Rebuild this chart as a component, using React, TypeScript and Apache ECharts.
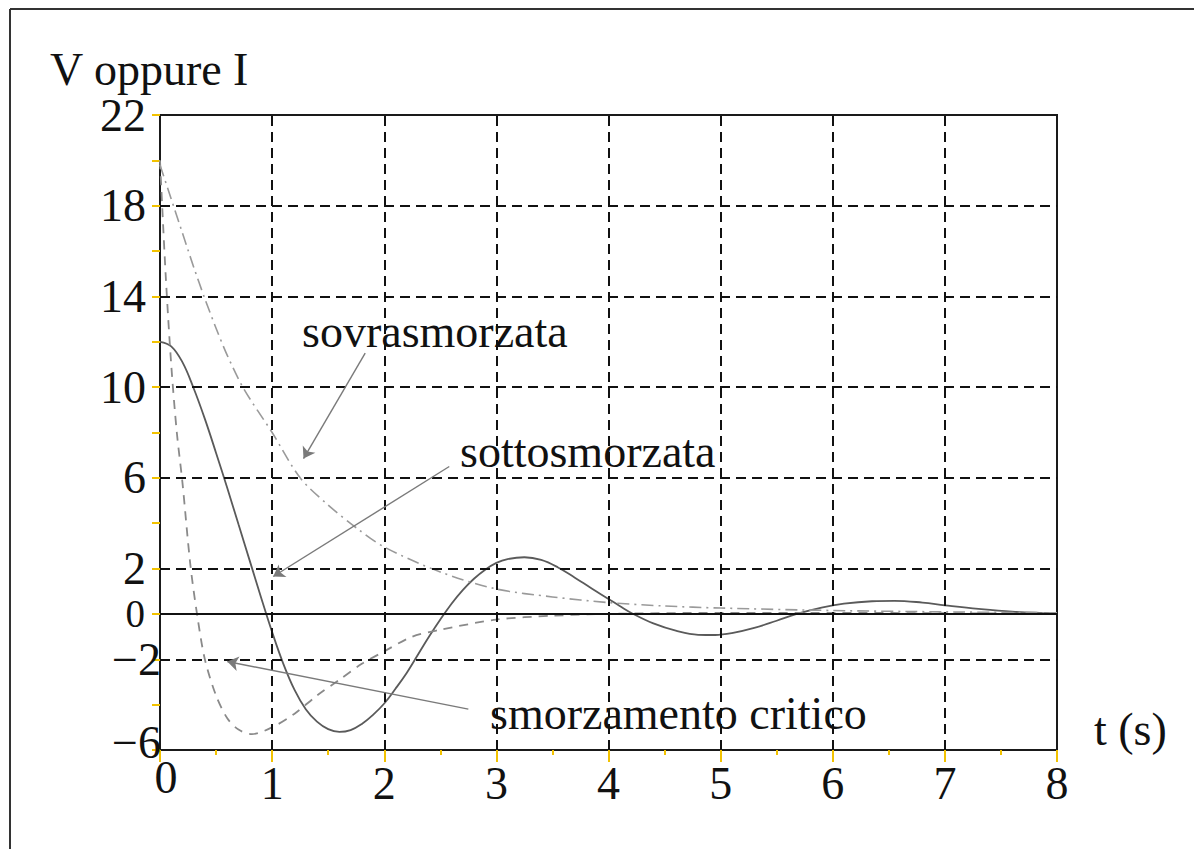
import React, { useEffect, useRef } from "react";
import * as echarts from "echarts";

const FONT = '"Liberation Serif", "Times New Roman", "DejaVu Serif", serif';
const YELLOW = "#f2c200";

// sottosmorzata (underdamped) – solid
const T_UNDER = [0, 0.1, 0.2, 0.3, 0.4, 0.5, 0.6, 0.7, 0.8, 0.9, 1.0, 1.1, 1.2, 1.3, 1.4, 1.5, 1.6, 1.7, 1.8, 1.9, 2.0, 2.1, 2.2, 2.3, 2.4, 2.5, 2.6, 2.7, 2.8, 2.9, 3.0, 3.1, 3.25, 3.4, 3.55, 3.7, 3.85, 4.0, 4.1, 4.22, 4.4, 4.6, 4.8, 4.95, 5.1, 5.3, 5.5, 5.68, 5.9, 6.1, 6.35, 6.55, 6.8, 7.0, 7.3, 7.6, 8.0];
const V_UNDER = [12.0, 11.8, 11.1, 9.95, 8.6, 7.1, 5.55, 3.95, 2.35, 0.75, -0.8, -2.2, -3.35, -4.2, -4.75, -5.08, -5.2, -5.12, -4.85, -4.45, -3.95, -3.3, -2.6, -1.8, -1.0, -0.25, 0.45, 1.05, 1.55, 1.95, 2.25, 2.42, 2.5, 2.38, 2.05, 1.6, 1.12, 0.66, 0.35, 0, -0.42, -0.74, -0.92, -0.93, -0.85, -0.62, -0.3, 0, 0.28, 0.45, 0.56, 0.58, 0.5, 0.38, 0.22, 0.1, 0.02];

// smorzamento critico – dashed
const T_CRIT = [0, 0.05, 0.1, 0.15, 0.2, 0.27, 0.33, 0.4, 0.5, 0.6, 0.7, 0.82, 1.0, 1.2, 1.4, 1.6, 1.8, 2.0, 2.25, 2.5, 3.0, 3.5, 4.0, 5.0, 6.0, 7.0, 8.0];
const V_CRIT = [20, 15, 11, 8, 5.8, 2.2, 0, -2, -3.6, -4.6, -5.1, -5.3, -5.0, -4.4, -3.6, -2.9, -2.2, -1.65, -1.0, -0.7, -0.25, -0.08, 0, 0.05, 0.05, 0.03, 0.02];

// sovrasmorzata (overdamped) – dash-dot
const T_OVER = [0, 0.1, 0.2, 0.3, 0.4, 0.5, 0.6, 0.75, 1.0, 1.25, 1.5, 1.75, 2.0, 2.5, 3.0, 3.5, 4.0, 4.5, 5.0, 6.0, 7.0, 8.0];
const V_OVER = [19.8, 18.3, 16.8, 15.3, 13.9, 12.6, 11.4, 9.9, 8.0, 6.0, 4.8, 3.8, 2.95, 1.85, 1.1, 0.75, 0.5, 0.35, 0.26, 0.15, 0.09, 0.05];

const Y_LABELS_POS = [22, 18, 14, 10, 6, 2, 0];
const Y_LABELS_NEG = [-2, -6];
const GRID_Y = [-2, 2, 6, 10, 14, 18];
const GRID_X = [1, 2, 3, 4, 5, 6, 7];

// annotation arrows: [start t, start v, end t, end v]
const ARROWS = [
  [1.83, 11.5, 1.28, 6.85],
  [2.58, 6.5, 1.01, 1.65],
  [2.75, -4.2, 0.6, -2.1],
];

const zip = (t: number[], v: number[]) => t.map((x, i) => [x, v[i]]);

export default function App() {
  const ref = useRef<HTMLDivElement>(null);
  useEffect(() => {
    if (!ref.current) return;
    const chart = echarts.init(ref.current, undefined, { renderer: "svg" });
    const txt = (text: string, x: number, y: number) => ({
      type: "text",
      x,
      y,
      silent: true,
      style: {
        text,
        fill: "#111",
        fontSize: 46,
        fontFamily: FONT,
        textAlign: "left",
        textVerticalAlign: "middle",
      },
    });
    const base = { fontSize: 46, fontFamily: FONT, color: "#111", lineHeight: 34 };
    chart.setOption({
      animation: false,
      backgroundColor: "#fff",
      grid: {
        left: 160,
        top: 115,
        right: 137,
        bottom: 99,
        show: true,
        borderColor: "#1a1a1a",
        borderWidth: 2,
        containLabel: false,
      },
      xAxis: {
        type: "value",
        min: 0,
        max: 8,
        interval: 1,
        axisLine: { show: true, onZero: false, lineStyle: { color: "#1a1a1a", width: 2 } },
        axisTick: { show: true, length: 12, lineStyle: { color: YELLOW, width: 2 } },
        minorTick: { show: true, splitNumber: 2, length: 5, lineStyle: { color: YELLOW, width: 2 } },
        axisLabel: {
          ...base,
          margin: 10,
          formatter: (v: number) => (v === 0 ? "{z|0}" : "{n|" + v + "}"),
          rich: {
            z: { ...base, padding: [0, 0, 0, 12] },
            n: { ...base, padding: [13, 0, 0, 0] },
          },
        },
        splitLine: { show: false },
      },
      yAxis: [
        {
          type: "value",
          min: -6,
          max: 22,
          interval: 2,
          position: "left",
          axisLine: { show: true, onZero: false, lineStyle: { color: "#1a1a1a", width: 2 } },
          axisTick: { show: true, length: 8, lineStyle: { color: YELLOW, width: 2 } },
          axisLabel: {
            ...base,
            margin: 14,
            formatter: (v: number) =>
              Y_LABELS_POS.includes(v) ? (v === 0 ? "{s|0}" : String(v)) : "",
            rich: {
              s: { ...base, fontSize: 39, lineHeight: 30, padding: [0, 1, 0, 0] },
            },
          },
          splitLine: { show: false },
        },
        {
          type: "value",
          min: -6,
          max: 22,
          interval: 2,
          position: "left",
          offset: 0,
          axisLine: { show: false },
          axisTick: { show: false },
          axisLabel: {
            ...base,
            margin: -1,
            formatter: (v: number) =>
              Y_LABELS_NEG.includes(v) ? (v === -6 ? "{u|\u22126}" : "\u2212" + Math.abs(v)) : "",
            rich: {
              u: { ...base, padding: [0, 0, 16, 0] },
            },
          },
          splitLine: { show: false },
        },
      ],
      series: [
        {
          name: "grid",
          type: "line",
          data: [],
          silent: true,
          z: 1,
          markLine: {
            silent: true,
            symbol: "none",
            label: { show: false },
            lineStyle: { color: "#111", width: 2, type: [10, 6] },
            data: [
              ...GRID_Y.map((v) => ({ yAxis: v })),
              ...GRID_X.map((v) => ({ xAxis: v })),
              { yAxis: 0, lineStyle: { type: "solid", color: "#111", width: 2 } },
            ],
          },
        },
        {
          name: "sottosmorzata",
          type: "line",
          data: zip(T_UNDER, V_UNDER),
          showSymbol: false,
          smooth: 0.4,
          z: 3,
          lineStyle: { color: "#5a5a5a", width: 1.8, type: "solid" },
        },
        {
          name: "smorzamento critico",
          type: "line",
          data: zip(T_CRIT, V_CRIT),
          showSymbol: false,
          smooth: 0.3,
          z: 3,
          lineStyle: { color: "#8a8a8a", width: 1.8, type: [9, 7] },
        },
        {
          name: "sovrasmorzata",
          type: "line",
          data: zip(T_OVER, V_OVER),
          showSymbol: false,
          smooth: 0.3,
          z: 3,
          lineStyle: { color: "#9a9a9a", width: 1.6, type: [12, 5, 2, 5] },
        },
        {
          name: "arrows",
          type: "line",
          data: [],
          silent: true,
          z: 4,
          markLine: {
            silent: true,
            symbol: ["none", "arrow"],
            symbolSize: 11,
            label: { show: false },
            lineStyle: { color: "#7a7a7a", width: 1.4, type: "solid" },
            data: ARROWS.map((a) => [{ coord: [a[0], a[1]] }, { coord: [a[2], a[3]] }]),
          },
        },
      ],
      graphic: [
        { type: "line", silent: true, shape: { x1: 10, y1: 9, x2: 1194, y2: 9 }, style: { stroke: "#333", lineWidth: 2 } },
        { type: "line", silent: true, shape: { x1: 10, y1: 9, x2: 10, y2: 849 }, style: { stroke: "#333", lineWidth: 2 } },
        txt("V oppure I", 50, 69),
        txt("t (s)", 1094, 729),
        txt("sovrasmorzata", 302, 331),
        txt("sottosmorzata", 460, 451),
        txt("smorzamento critico", 490, 713),
      ],
    });
    return () => chart.dispose();
  }, []);
  return (
    <div
      ref={ref}
      style={{ position: "fixed", left: 0, top: 0, width: 1194, height: 849, background: "#fff" }}
    />
  );
}
